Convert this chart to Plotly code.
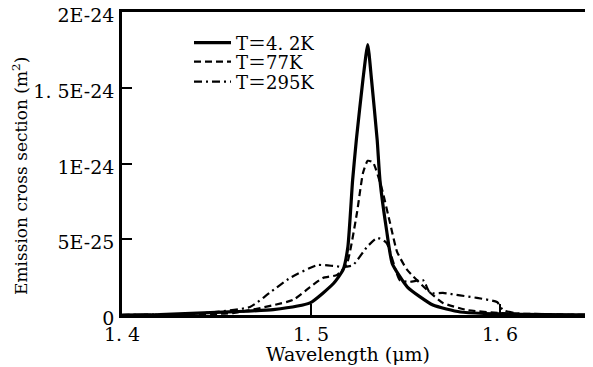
import plotly.graph_objects as go

# Wavelength (um) and emission cross section (units of 1E-24 m^2)
wl_42 = [1.400, 1.420, 1.440, 1.460, 1.480, 1.4995, 1.512, 1.517, 1.5195, 1.522, 1.524, 1.5275,
         1.530, 1.532, 1.535, 1.5365, 1.540, 1.543, 1.551, 1.5645, 1.579, 1.600, 1.649]
cs_42 = [0.000, 0.003, 0.012, 0.022, 0.036, 0.08, 0.21, 0.30, 0.45, 0.89, 1.16, 1.56,
         1.79, 1.56, 1.16, 0.89, 0.56, 0.34, 0.185, 0.066, 0.02, 0.007, 0.0]

wl_77 = [1.400, 1.430, 1.4587, 1.4905, 1.4995, 1.5063, 1.5138, 1.519, 1.5243, 1.5275,
         1.530, 1.5328, 1.5376, 1.5418, 1.5455, 1.5508, 1.5614, 1.5698, 1.5825, 1.600, 1.649]
cs_77 = [0.000, 0.004, 0.013, 0.10, 0.185, 0.245, 0.265, 0.34, 0.675, 0.94,
         1.02, 1.01, 0.83, 0.61, 0.42, 0.30, 0.166, 0.08, 0.033, 0.013, 0.0]

wl_295 = [1.400, 1.440, 1.4677, 1.478, 1.4889, 1.5032, 1.5116, 1.517, 1.5222, 1.5296,
          1.535, 1.540, 1.547, 1.5524, 1.5593, 1.563, 1.5698, 1.5788, 1.5878, 1.5984,
          1.6016, 1.6106, 1.649]
cs_295 = [0.000, 0.01, 0.053, 0.146, 0.245, 0.33, 0.325, 0.318, 0.33, 0.45,
          0.51, 0.477, 0.23, 0.22, 0.23, 0.146, 0.146, 0.13, 0.113, 0.086,
          0.033, 0.007, 0.0]

x_ticks = [1.4, 1.5, 1.6]
x_ticktext = ["1. 4", "1. 5", "1. 6"]
y_ticks = [0, 0.5, 1.0, 1.5, 2.0]
y_ticktext = ["0", "5E-25", "1E-24", "1. 5E-24", "2E-24"]
series_names = ["T\uff1d4. 2K", "T\uff1d77K", "T\uff1d295K"]

font = "DejaVu Serif, Noto Sans CJK JP"
OFF = 8  # page body margin offset
W, H = 593 - OFF, 367 - OFF
L, R, T, B = 122 - OFF, 0, 12 - OFF, 52
PW, PH = W - L - R, H - T - B

fig = go.Figure()
fig.add_trace(go.Scatter(x=wl_42, y=cs_42, mode="lines", name=series_names[0], legend="legend",
                         line=dict(color="black", width=3.2, shape="spline", smoothing=0.5)))
fig.add_trace(go.Scatter(x=wl_77, y=cs_77, mode="lines", name=series_names[1], legend="legend2",
                         line=dict(color="black", width=2.2, dash="7px,4px", shape="spline", smoothing=0.5)))
fig.add_trace(go.Scatter(x=wl_295, y=cs_295, mode="lines", name=series_names[2], legend="legend3",
                         line=dict(color="black", width=2.2, dash="8px,4px,2px,4px", shape="spline", smoothing=0.5)))

def leg(yc):
    return dict(x=(195 - OFF - 6 - L) / PW, y=(H - B - (yc - OFF)) / PH, xanchor="left", yanchor="middle",
                bgcolor="rgba(0,0,0,0)", borderwidth=0, itemwidth=37,
                font=dict(family=font, size=18, color="black"))

fig.update_layout(
    width=W, height=H,
    margin=dict(l=L, r=R, t=T, b=B, autoexpand=False),
    paper_bgcolor="white", plot_bgcolor="white",
    font=dict(family=font, size=19, color="black"),
    showlegend=True,
    legend=leg(43), legend2=leg(62), legend3=leg(82),
    xaxis=dict(range=[1.4, 1.6492], tickvals=x_ticks, ticktext=x_ticktext,
               ticks="inside", ticklen=11, tickwidth=2, tickcolor="black",
               showline=True, linecolor="black", linewidth=2.5, mirror=True,
               showgrid=False, zeroline=False, ticklabelstandoff=0, automargin=False,
               ticklabeloverflow="allow", tickfont=dict(family=font, size=19)),
    yaxis=dict(range=[0, 2.005], tickvals=y_ticks, ticktext=y_ticktext,
               ticks="inside", ticklen=10, tickwidth=2, tickcolor="black",
               showline=True, linecolor="black", linewidth=2.5,
               showgrid=False, zeroline=False, ticklabelstandoff=1, automargin=False,
               ticklabelshift=3,
               ticklabeloverflow="allow", tickfont=dict(family=font, size=19)),
    annotations=[
        dict(text="Wavelength (\u03bcm)", xref="paper", yref="paper",
             x=(348 - OFF - L) / PW, y=-(354 - 315) / PH, xanchor="center", yanchor="middle",
             showarrow=False, font=dict(family="DejaVu Serif", size=19)),
        dict(text="Emission cross section (m<sup>2</sup>)", xref="paper", yref="paper",
             x=-(122 - 20) / PW, y=(315 - 176) / PH, xanchor="center", yanchor="middle",
             textangle=-90, showarrow=False, font=dict(family="DejaVu Serif", size=17)),
    ],
)

fig.write_html("out.html")
